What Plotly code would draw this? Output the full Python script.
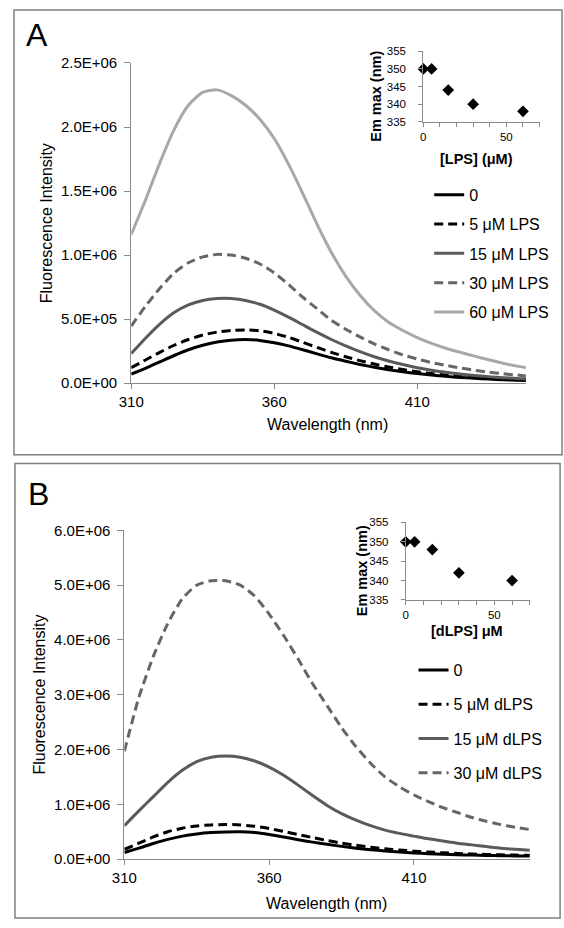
import plotly.graph_objects as go

# ---------------- data ----------------
wl_a = [310, 315, 320, 325, 330, 335, 340, 345, 350, 355, 360, 365, 370, 375, 380,
        385, 390, 395, 400, 405, 410, 415, 420, 425, 430, 435, 440, 445, 448]
a_0 = [0.07, 0.115, 0.165, 0.215, 0.26, 0.295, 0.32, 0.335, 0.34, 0.333, 0.315, 0.29, 0.26, 0.228, 0.197,
       0.17, 0.145, 0.123, 0.104, 0.088, 0.074, 0.062, 0.052, 0.044, 0.037, 0.031, 0.026, 0.022, 0.02]
a_5 = [0.12, 0.18, 0.24, 0.295, 0.34, 0.375, 0.398, 0.411, 0.415, 0.408, 0.388, 0.357, 0.318, 0.278, 0.24,
       0.205, 0.175, 0.148, 0.125, 0.105, 0.088, 0.074, 0.063, 0.054, 0.047, 0.041, 0.036, 0.032, 0.03]
a_15 = [0.23, 0.35, 0.46, 0.55, 0.61, 0.645, 0.66, 0.66, 0.645, 0.615, 0.57, 0.515, 0.455, 0.395, 0.34,
        0.29, 0.245, 0.205, 0.172, 0.144, 0.12, 0.10, 0.084, 0.07, 0.059, 0.05, 0.042, 0.036, 0.032]
a_30 = [0.445, 0.60, 0.74, 0.86, 0.94, 0.985, 1.005, 1.0, 0.975, 0.93, 0.86, 0.77, 0.67, 0.58, 0.49,
        0.42, 0.36, 0.305, 0.26, 0.22, 0.188, 0.16, 0.138, 0.118, 0.10, 0.085, 0.072, 0.062, 0.055]
a_60 = [1.16, 1.43, 1.72, 1.98, 2.17, 2.27, 2.29, 2.245, 2.17, 2.06, 1.91, 1.71, 1.48, 1.24, 1.02,
        0.835, 0.685, 0.565, 0.475, 0.41, 0.355, 0.31, 0.272, 0.24, 0.21, 0.182, 0.155, 0.132, 0.12]

wl_b = [310, 315, 320, 325, 330, 335, 340, 345, 350, 355, 360, 365, 370, 375, 380,
        385, 390, 395, 400, 405, 410, 415, 420, 425, 430, 435, 440, 445, 450]
b_0 = [0.12, 0.20, 0.285, 0.36, 0.42, 0.46, 0.485, 0.497, 0.50, 0.485, 0.45, 0.405, 0.355, 0.31, 0.27,
       0.233, 0.20, 0.173, 0.15, 0.13, 0.113, 0.10, 0.09, 0.081, 0.074, 0.068, 0.063, 0.058, 0.055]
b_5 = [0.18, 0.29, 0.405, 0.50, 0.565, 0.605, 0.625, 0.632, 0.625, 0.60, 0.56, 0.505, 0.45, 0.393, 0.34,
       0.292, 0.252, 0.218, 0.19, 0.166, 0.146, 0.13, 0.116, 0.104, 0.094, 0.086, 0.079, 0.074, 0.07]
b_15 = [0.61, 0.88, 1.14, 1.40, 1.62, 1.78, 1.86, 1.88, 1.86, 1.79, 1.68, 1.53, 1.35, 1.16, 0.98,
        0.83, 0.71, 0.61, 0.53, 0.47, 0.42, 0.37, 0.33, 0.29, 0.26, 0.23, 0.20, 0.18, 0.16]
b_30 = [1.97, 2.95, 3.70, 4.30, 4.75, 5.00, 5.08, 5.08, 5.00, 4.80, 4.47, 4.08, 3.65, 3.20, 2.80,
        2.40, 2.05, 1.75, 1.50, 1.32, 1.17, 1.05, 0.94, 0.85, 0.76, 0.69, 0.63, 0.58, 0.54]

conc_lps = [0, 5, 15, 30, 60]
emmax_lps = [350, 350, 344, 340, 338]
conc_dlps = [0, 5, 15, 30, 60]
emmax_dlps = [350, 350, 348, 342, 340]

names_a = ["0", "5 μM LPS", "15 μM LPS", "30 μM LPS", "60 μM LPS"]
names_b = ["0", "5 μM dLPS", "15 μM dLPS", "30 μM dLPS"]

yticks_a = [0, 5e5, 1e6, 1.5e6, 2e6, 2.5e6]
yticklabels_a = ["0.0E+00", "5.0E+05", "1.0E+06", "1.5E+06", "2.0E+06", "2.5E+06"]
yticks_b = [0, 1e6, 2e6, 3e6, 4e6, 5e6, 6e6]
yticklabels_b = ["0.0E+00", "1.0E+06", "2.0E+06", "3.0E+06", "4.0E+06", "5.0E+06", "6.0E+06"]
xticks_main = [310, 360, 410]
inset_yticks = [335, 340, 345, 350, 355]

# ---------------- styles ----------------
W, H = 564, 928
FONT = "Liberation Sans, Arial, sans-serif"
AX = "#8a8a8a"
styles_a = [dict(color="#000000", dash="solid"),
            dict(color="#000000", dash="9px,5px"),
            dict(color="#5a5a5a", dash="solid"),
            dict(color="#666666", dash="9px,5px"),
            dict(color="#a8a8a8", dash="solid")]
styles_b = styles_a[:4]


def px(x):
    return x / W


def py(y):
    return 1 - y / H


fig = go.Figure()

for i, (name, vals) in enumerate(zip(names_a, [a_0, a_5, a_15, a_30, a_60])):
    fig.add_trace(go.Scatter(
        x=wl_a, y=[v * 1e6 for v in vals], mode="lines", name=name,
        line=dict(width=3, shape="spline", smoothing=0.6, **styles_a[i]),
        xaxis="x", yaxis="y", legend="legend", legendgroup="a%d" % i))

for i, (name, vals) in enumerate(zip(names_b, [b_0, b_5, b_15, b_30])):
    fig.add_trace(go.Scatter(
        x=wl_b, y=[v * 1e6 for v in vals], mode="lines", name=name,
        line=dict(width=3, shape="spline", smoothing=0.6, **styles_b[i]),
        xaxis="x3", yaxis="y3", legend="legend2", legendgroup="b%d" % i))

fig.add_trace(go.Scatter(x=conc_lps, y=emmax_lps, mode="markers", showlegend=False,
                         marker=dict(symbol="diamond", size=9, color="black"),
                         cliponaxis=False, xaxis="x2", yaxis="y2"))
fig.add_trace(go.Scatter(x=conc_dlps, y=emmax_dlps, mode="markers", showlegend=False,
                         marker=dict(symbol="diamond", size=9, color="black"),
                         cliponaxis=False, xaxis="x4", yaxis="y4"))

main_x = dict(showgrid=False, zeroline=False, showline=True, linecolor=AX, linewidth=1,
              ticks="outside", ticklen=5, tickcolor=AX, tickvals=xticks_main,
              tickfont=dict(size=15, color="black", family=FONT))
main_y = dict(showgrid=False, zeroline=False, showline=True, linecolor=AX, linewidth=1,
              ticks="outside", ticklen=6, tickcolor=AX, ticklabelstandoff=4,
              tickfont=dict(size=15, color="black", family=FONT))
inset_x = dict(showgrid=False, zeroline=False, showline=True, linecolor=AX, linewidth=1,
               range=[0, 70], tickvals=[0, 50], ticks="outside", ticklen=4, tickcolor=AX,
               minor=dict(dtick=10, tick0=0, ticks="outside", ticklen=4, tickcolor=AX),
               tickfont=dict(size=11.5, color="black", family=FONT))
inset_y = dict(showgrid=False, zeroline=False, showline=True, linecolor=AX, linewidth=1,
               range=[335, 355], tickvals=inset_yticks, ticks="outside", ticklen=4,
               tickcolor=AX, ticklabelstandoff=10,
               tickfont=dict(size=11.5, color="black", family=FONT))

fig.update_layout(
    width=W, height=H, margin=dict(l=0, r=0, t=0, b=0),
    paper_bgcolor="white", plot_bgcolor="rgba(0,0,0,0)",
    font=dict(family=FONT, color="black"),
    xaxis=dict(main_x, domain=[px(121), px(525)], range=[310, 448], anchor="y"),
    yaxis=dict(main_y, domain=[py(381), py(55)], range=[0, 2.5e6], anchor="x",
               tickvals=yticks_a, ticktext=yticklabels_a),
    xaxis2=dict(inset_x, domain=[px(420), px(539)], anchor="y2"),
    yaxis2=dict(inset_y, domain=[py(115), py(43)], anchor="x2"),
    xaxis3=dict(main_x, domain=[px(114), px(529)], range=[310, 450], anchor="y3"),
    yaxis3=dict(main_y, domain=[py(866), py(531)], range=[0, 6e6], anchor="x3",
                tickvals=yticks_b, ticktext=yticklabels_b),
    xaxis4=dict(inset_x, domain=[px(402), px(529)], anchor="y4"),
    yaxis4=dict(inset_y, domain=[py(602), py(523)], anchor="x4"),
    legend=dict(x=px(426), y=py(172), xanchor="left", yanchor="top",
                font=dict(size=16, family=FONT, color="black"), tracegroupgap=5.5,
                bgcolor="rgba(0,0,0,0)", itemwidth=30),
    legend2=dict(x=px(410), y=py(656), xanchor="left", yanchor="top",
                 font=dict(size=16, family=FONT, color="black"), tracegroupgap=10.5,
                 bgcolor="rgba(0,0,0,0)", itemwidth=30),
    showlegend=True,
)

shapes = [
    dict(type="rect", xref="paper", yref="paper", x0=px(1), x1=px(562), y0=py(454), y1=py(1),
         line=dict(color="#7f7f7f", width=1.5)),
    dict(type="rect", xref="paper", yref="paper", x0=px(2), x1=px(560), y0=py(926), y1=py(463),
         line=dict(color="#7f7f7f", width=1.5)),
]
fig.update_layout(shapes=shapes)

ann = []


def add_text(text, x, y, size, bold=False, angle=0, xanchor="center"):
    ann.append(dict(text=("<b>%s</b>" % text) if bold else text, x=px(x), y=py(y),
                    xref="paper", yref="paper", showarrow=False, textangle=angle,
                    xanchor=xanchor, yanchor="middle",
                    font=dict(size=size, family=FONT, color="black")))


add_text("A", 11, 26, 32, xanchor="left")
add_text("B", 13, 494, 32, xanchor="left")
add_text("Fluorescence Intensity", 34, 218, 16, angle=-90)
add_text("Wavelength (nm)", 322, 423, 16)
add_text("Fluorescence Intensity", 27, 698, 16, angle=-90)
add_text("Wavelength (nm)", 321, 911, 16)
add_text("Em max (nm)", 372, 89, 14.5, bold=True, angle=-90)
add_text("[LPS] (μM)", 474, 153, 14.5, bold=True)
add_text("Em max (nm)", 357, 572, 14.5, bold=True, angle=-90)
add_text("[dLPS] μM", 465, 634, 14.5, bold=True)
fig.update_layout(annotations=ann)

fig.write_html("out.html", config={"displayModeBar": False},
               post_script="document.body.style.margin='0';document.body.style.overflow='hidden';")
